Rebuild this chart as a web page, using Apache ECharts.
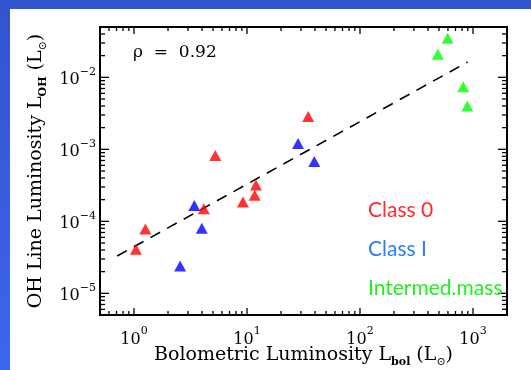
<!DOCTYPE html>
<html><head><meta charset="utf-8">
<script src="https://cdn.jsdelivr.net/npm/echarts@6/dist/echarts.min.js"></script>
<style>html,body{margin:0;padding:0;background:#fff}#c{width:531px;height:370px}</style>
</head><body><div id="c"></div>
<script>
// Data
const classO_x = [1.04, 1.26, 5.24, 4.15, 9.2, 11.7, 12.0, 34.8];
const classO_y = [4.1e-5, 7.8e-5, 8.2e-4, 1.5e-4, 1.85e-4, 2.3e-4, 3.2e-4, 2.85e-3];
const classI_x = [3.42, 3.98, 2.56, 28.3, 39.4];
const classI_y = [1.66e-4, 8.0e-5, 2.4e-5, 1.2e-3, 6.8e-4];
const inter_x = [489, 597, 819, 891];
const inter_y = [0.021, 0.035, 7.4e-3, 4.0e-3];
const fit_x = [0.71, 896];
const fit_y = [3.3e-5, 0.0163];
const xTickValues = [1, 10, 100, 1000];
const yTickValues = [1e-5, 1e-4, 1e-3, 1e-2];
const classLabels = ['Class 0', 'Class I', 'Intermed.mass'];
const rhoText = 'ρ  =  0.92';

const SERIF = 'DejaVu Serif';
const zip = (a, b) => a.map((v, i) => [v, b[i]]);

function powLabel(vals) {
  return function (v) {
    for (const t of vals) {
      if (Math.abs(v - t) / t < 1e-6) {
        const n = Math.round(Math.log10(t));
        return '{b|10}{s|' + (n < 0 ? '\u2212' + (-n) : n) + '}';
      }
    }
    return '';
  };
}
const richTick = {
  b: { fontFamily: SERIF, fontSize: 16, color: '#000', lineHeight: 22, verticalAlign: 'bottom' },
  s: { fontFamily: SERIF, fontSize: 11, color: '#000', lineHeight: 11, verticalAlign: 'top' }
};
const richName = {
  sub: { fontFamily: SERIF, fontSize: 11, fontWeight: 'bold', color: '#000', lineHeight: 11, verticalAlign: 'bottom' },
  sun: { fontFamily: SERIF, fontSize: 11, color: '#000', lineHeight: 11, verticalAlign: 'bottom' },
  n: { fontFamily: SERIF, fontSize: 19, color: '#000', lineHeight: 26, verticalAlign: 'middle' }
};

const XMIN = 0.5, XMAX = 2000, YMIN = 5e-6, YMAX = 0.05;

const chart = echarts.init(document.getElementById('c'), null, { renderer: 'canvas' });
chart.setOption({
  animation: false,
  backgroundColor: {
    type: 'linear', x: 0, y: 0, x2: 0, y2: 1,
    colorStops: [{ offset: 0, color: '#3354cc' }, { offset: 1, color: '#3c66ee' }]
  },
  graphic: [
    { type: 'rect', left: 10, top: 9, z: -100, shape: { width: 521, height: 361 }, style: { fill: '#fff' } },
    { type: 'text', left: 133, top: 44, z: 100, style: { text: rhoText, fontFamily: SERIF, fontSize: 17, fill: '#000' } },
    { type: 'text', left: 368, top: 200, z: 100, style: { text: classLabels[0], fontFamily: 'Lato', fontSize: 21, fill: '#ff2a2a' } },
    { type: 'text', left: 368, top: 239, z: 100, style: { text: classLabels[1], fontFamily: 'Lato', fontSize: 21, fill: '#2f7bff' } },
    { type: 'text', left: 368, top: 278, z: 100, style: { text: classLabels[2], fontFamily: 'Lato', fontSize: 21, fill: '#22ee22' } }
  ],
  grid: { left: 100, right: 24, top: 27, bottom: 55, outerBoundsMode: 'none', containLabel: false, show: true, borderColor: '#000', borderWidth: 2, backgroundColor: 'rgba(0,0,0,0)' },
  xAxis: {
    type: 'log', logBase: 10, min: XMIN, max: XMAX,
    axisLine: { show: false }, axisTick: { show: false }, splitLine: { show: false },
    axisLabel: { formatter: powLabel(xTickValues), rich: richTick, margin: 11, showMinLabel: false, showMaxLabel: false },
    name: '{n|Bolometric Luminosity L}{sub|bol}{n| (L}{sun|\u2299}{n|)}',
    nameLocation: 'middle', nameGap: 27, nameMoveOverlap: false,
    nameTextStyle: { rich: richName }
  },
  yAxis: {
    type: 'log', logBase: 10, min: YMIN, max: YMAX,
    axisLine: { show: false }, axisTick: { show: false }, splitLine: { show: false },
    axisLabel: { formatter: powLabel(yTickValues), rich: richTick, margin: 4, showMinLabel: false, showMaxLabel: false },
    name: '{n|OH Line Luminosity L}{sub|OH}{n| (L}{sun|\u2299}{n|)}',
    nameLocation: 'middle', nameGap: 51, nameRotate: 90, nameMoveOverlap: false,
    nameTextStyle: { rich: richName }
  },
  series: [
    {
      type: 'custom', silent: true, clip: false, z: 10,
      data: [[1, 1e-4]],
      renderItem: function (params, api) {
        const cs = params.coordSys;
        const L = cs.x, R = cs.x + cs.width, T = cs.y, B = cs.y + cs.height;
        const ch = [];
        const ln = (x1, y1, x2, y2) => ({ type: 'line', shape: { x1, y1, x2, y2 }, style: { stroke: '#000', lineWidth: 1.3 } });
        for (let e = -1; e <= 3; e++) for (let k = 1; k <= 9; k++) {
          const v = k * Math.pow(10, e);
          if (v <= XMIN || v >= XMAX) continue;
          const px = api.coord([v, 1e-4])[0];
          const len = k === 1 ? 7 : 4;
          ch.push(ln(px, B, px, B - len), ln(px, T, px, T + len));
        }
        for (let e = -6; e <= -2; e++) for (let k = 1; k <= 9; k++) {
          const v = k * Math.pow(10, e);
          if (v <= YMIN * 1.0001 || v >= YMAX * 0.9999) continue;
          const py = api.coord([1, v])[1];
          const len = k === 1 ? 9 : 5;
          ch.push(ln(L, py, L + len, py), ln(R, py, R - len, py));
        }
        return { type: 'group', children: ch };
      }
    },
    {
      type: 'line', data: zip(fit_x, fit_y), symbol: 'none', silent: true, z: 3,
      lineStyle: { color: '#000', width: 1.6, type: [11, 8] }
    },
    { type: 'scatter', data: zip(classO_x, classO_y), symbol: 'triangle', symbolSize: [12, 11], itemStyle: { color: '#ff0000' }, z: 4 },
    { type: 'scatter', data: zip(classI_x, classI_y), symbol: 'triangle', symbolSize: [12, 11], itemStyle: { color: '#0000ff' }, z: 4 },
    { type: 'scatter', data: zip(inter_x, inter_y), symbol: 'triangle', symbolSize: [12, 11], itemStyle: { color: '#00ff00' }, z: 4 }
  ]
});
</script></body></html>
